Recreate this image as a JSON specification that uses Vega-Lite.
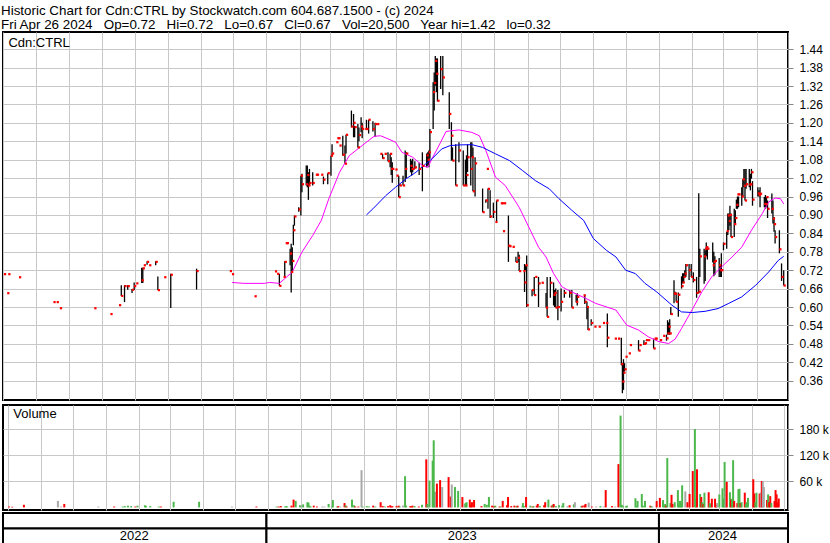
{
"$schema": "https://vega.github.io/schema/vega-lite/v6.json",
"background": "white",
"padding": {"left": 1, "top": 3, "right": 0, "bottom": 0},
"title": {"text": ["Historic Chart for Cdn:CTRL by Stockwatch.com 604.687.1500 - (c) 2024", "Fri Apr 26 2024\u00a0\u00a0 Op=0.72\u00a0\u00a0 Hi=0.72\u00a0\u00a0 Lo=0.67\u00a0\u00a0 Cl=0.67\u00a0\u00a0 Vol=20,500\u00a0\u00a0 Year hi=1.42\u00a0\u00a0 lo=0.32"], "anchor": "start", "frame": "bounds", "fontSize": 13.4, "lineHeight": 14, "font": "Liberation Sans", "fontWeight": "normal", "color": "black", "offset": 0},
"datasets": {
"px": [
{"d":"2022-05-02","h":0.707,"l":0.707,"c":0.707},
{"d":"2022-05-05","h":0.645,"l":0.645,"c":0.645},
{"d":"2022-05-06","h":0.707,"l":0.707,"c":0.707},
{"d":"2022-05-16","h":0.697,"l":0.697,"c":0.697},
{"d":"2022-06-17","h":0.616,"l":0.616,"c":0.616},
{"d":"2022-06-20","h":0.616,"l":0.616,"c":0.616},
{"d":"2022-06-23","h":0.596,"l":0.596,"c":0.596},
{"d":"2022-07-25","h":0.596,"l":0.596,"c":0.596},
{"d":"2022-08-09","h":0.577,"l":0.577,"c":0.577},
{"d":"2022-08-17","h":0.606,"l":0.606,"c":0.606},
{"d":"2022-08-19","h":0.671,"l":0.636,"c":0.636},
{"d":"2022-08-22","h":0.671,"l":0.616,"c":0.668},
{"d":"2022-08-25","h":0.671,"l":0.656,"c":0.668},
{"d":"2022-08-29","h":0.659,"l":0.646,"c":0.656},
{"d":"2022-08-31","h":0.680,"l":0.655,"c":0.668},
{"d":"2022-09-02","h":0.677,"l":0.677,"c":0.677},
{"d":"2022-09-07","h":0.728,"l":0.678,"c":0.687},
{"d":"2022-09-08","h":0.728,"l":0.678,"c":0.726},
{"d":"2022-09-09","h":0.736,"l":0.736,"c":0.736},
{"d":"2022-09-12","h":0.749,"l":0.738,"c":0.747},
{"d":"2022-09-14","h":0.736,"l":0.736,"c":0.736},
{"d":"2022-09-20","h":0.749,"l":0.736,"c":0.747},
{"d":"2022-09-22","h":0.699,"l":0.655,"c":0.655},
{"d":"2022-09-28","h":0.697,"l":0.697,"c":0.697},
{"d":"2022-10-04","h":0.708,"l":0.597,"c":0.705},
{"d":"2022-10-28","h":0.725,"l":0.657,"c":0.717},
{"d":"2022-11-28","h":0.717,"l":0.717,"c":0.717},
{"d":"2022-11-30","h":0.707,"l":0.707,"c":0.707},
{"d":"2022-12-21","h":0.635,"l":0.635,"c":0.635},
{"d":"2023-01-09","h":0.716,"l":0.716,"c":0.716},
{"d":"2023-01-11","h":0.708,"l":0.708,"c":0.708},
{"d":"2023-01-13","h":0.708,"l":0.669,"c":0.669},
{"d":"2023-01-17","h":0.698,"l":0.698,"c":0.698},
{"d":"2023-01-18","h":0.749,"l":0.697,"c":0.747},
{"d":"2023-01-19","h":0.808,"l":0.808,"c":0.808},
{"d":"2023-01-20","h":0.808,"l":0.808,"c":0.808},
{"d":"2023-01-23","h":0.790,"l":0.736,"c":0.774},
{"d":"2023-01-24","h":0.806,"l":0.647,"c":0.714},
{"d":"2023-01-25","h":0.795,"l":0.714,"c":0.750},
{"d":"2023-01-26","h":0.868,"l":0.801,"c":0.850},
{"d":"2023-01-27","h":0.898,"l":0.865,"c":0.895},
{"d":"2023-01-31","h":0.925,"l":0.910,"c":0.918},
{"d":"2023-02-02","h":1.028,"l":0.898,"c":1.028},
{"d":"2023-02-03","h":1.034,"l":0.974,"c":1.000},
{"d":"2023-02-07","h":1.061,"l":0.996,"c":1.000},
{"d":"2023-02-08","h":1.061,"l":0.990,"c":1.030},
{"d":"2023-02-09","h":1.039,"l":0.949,"c":0.996},
{"d":"2023-02-10","h":1.050,"l":0.996,"c":1.004},
{"d":"2023-02-13","h":1.039,"l":0.996,"c":1.004},
{"d":"2023-02-16","h":1.031,"l":1.031,"c":1.031},
{"d":"2023-02-17","h":1.031,"l":1.031,"c":1.031},
{"d":"2023-02-21","h":1.031,"l":1.031,"c":1.031},
{"d":"2023-02-23","h":1.025,"l":1.000,"c":1.015},
{"d":"2023-02-27","h":1.036,"l":1.000,"c":1.036},
{"d":"2023-03-02","h":1.093,"l":1.028,"c":1.093},
{"d":"2023-03-03","h":1.130,"l":1.093,"c":1.100},
{"d":"2023-03-07","h":1.137,"l":1.137,"c":1.137},
{"d":"2023-03-08","h":1.150,"l":1.150,"c":1.150},
{"d":"2023-03-09","h":1.150,"l":1.150,"c":1.150},
{"d":"2023-03-10","h":1.126,"l":1.126,"c":1.126},
{"d":"2023-03-13","h":1.158,"l":1.093,"c":1.096},
{"d":"2023-03-15","h":1.126,"l":1.066,"c":1.067},
{"d":"2023-03-16","h":1.161,"l":1.100,"c":1.161},
{"d":"2023-03-21","h":1.240,"l":1.185,"c":1.188},
{"d":"2023-03-23","h":1.229,"l":1.153,"c":1.200},
{"d":"2023-03-24","h":1.190,"l":1.153,"c":1.186},
{"d":"2023-03-27","h":1.196,"l":1.120,"c":1.120},
{"d":"2023-03-28","h":1.185,"l":1.140,"c":1.160},
{"d":"2023-03-30","h":1.218,"l":1.169,"c":1.188},
{"d":"2023-03-31","h":1.200,"l":1.150,"c":1.180},
{"d":"2023-04-03","h":1.180,"l":1.180,"c":1.180},
{"d":"2023-04-04","h":1.210,"l":1.178,"c":1.180},
{"d":"2023-04-06","h":1.210,"l":1.165,"c":1.210},
{"d":"2023-04-10","h":1.205,"l":1.172,"c":1.180},
{"d":"2023-04-12","h":1.200,"l":1.155,"c":1.196},
{"d":"2023-04-14","h":1.196,"l":1.196,"c":1.196},
{"d":"2023-04-17","h":1.099,"l":1.099,"c":1.099},
{"d":"2023-04-19","h":1.099,"l":1.083,"c":1.085},
{"d":"2023-04-21","h":1.099,"l":1.099,"c":1.099},
{"d":"2023-04-24","h":1.104,"l":1.075,"c":1.075},
{"d":"2023-04-26","h":1.099,"l":1.055,"c":1.099},
{"d":"2023-04-27","h":1.088,"l":1.030,"c":1.050},
{"d":"2023-04-28","h":1.072,"l":1.005,"c":1.050},
{"d":"2023-05-01","h":1.048,"l":1.048,"c":1.048},
{"d":"2023-05-02","h":1.028,"l":1.028,"c":1.028},
{"d":"2023-05-04","h":1.028,"l":0.958,"c":0.958},
{"d":"2023-05-05","h":1.000,"l":0.996,"c":0.996},
{"d":"2023-05-08","h":1.028,"l":0.996,"c":0.996},
{"d":"2023-05-10","h":1.110,"l":1.007,"c":1.050},
{"d":"2023-05-11","h":1.104,"l":1.020,"c":1.100},
{"d":"2023-05-15","h":1.083,"l":1.039,"c":1.060},
{"d":"2023-05-16","h":1.077,"l":1.028,"c":1.050},
{"d":"2023-05-17","h":1.083,"l":1.039,"c":1.050},
{"d":"2023-05-19","h":1.075,"l":1.050,"c":1.055},
{"d":"2023-05-23","h":1.070,"l":1.030,"c":1.050},
{"d":"2023-05-26","h":1.104,"l":0.977,"c":1.060},
{"d":"2023-05-30","h":1.100,"l":1.055,"c":1.094},
{"d":"2023-05-31","h":1.104,"l":1.060,"c":1.080},
{"d":"2023-06-01","h":1.110,"l":1.055,"c":1.104},
{"d":"2023-06-02","h":1.180,"l":1.083,"c":1.170},
{"d":"2023-06-05","h":1.332,"l":1.180,"c":1.300},
{"d":"2023-06-06","h":1.364,"l":1.240,"c":1.330},
{"d":"2023-06-07","h":1.418,"l":1.321,"c":1.402},
{"d":"2023-06-08","h":1.410,"l":1.300,"c":1.360},
{"d":"2023-06-09","h":1.410,"l":1.270,"c":1.272},
{"d":"2023-06-12","h":1.418,"l":1.310,"c":1.375},
{"d":"2023-06-14","h":1.418,"l":1.290,"c":1.348},
{"d":"2023-06-20","h":1.300,"l":1.180,"c":1.229},
{"d":"2023-06-22","h":1.202,"l":1.077,"c":1.158},
{"d":"2023-06-23","h":1.120,"l":1.077,"c":1.077},
{"d":"2023-06-26","h":1.130,"l":0.996,"c":0.996},
{"d":"2023-06-29","h":1.137,"l":1.072,"c":1.110},
{"d":"2023-07-03","h":1.110,"l":0.996,"c":0.996},
{"d":"2023-07-05","h":1.080,"l":0.996,"c":0.996},
{"d":"2023-07-06","h":1.094,"l":0.996,"c":1.030},
{"d":"2023-07-07","h":1.130,"l":1.040,"c":1.088},
{"d":"2023-07-10","h":1.137,"l":0.996,"c":1.050},
{"d":"2023-07-11","h":1.137,"l":1.088,"c":1.088},
{"d":"2023-07-12","h":1.120,"l":0.977,"c":0.977},
{"d":"2023-07-14","h":1.088,"l":0.960,"c":1.068},
{"d":"2023-07-21","h":0.986,"l":0.909,"c":0.909},
{"d":"2023-07-24","h":0.950,"l":0.940,"c":0.947},
{"d":"2023-07-25","h":1.050,"l":1.050,"c":1.050},
{"d":"2023-07-26","h":0.986,"l":0.920,"c":0.985},
{"d":"2023-07-28","h":0.980,"l":0.890,"c":0.895},
{"d":"2023-07-31","h":0.940,"l":0.890,"c":0.910},
{"d":"2023-08-02","h":0.877,"l":0.877,"c":0.877},
{"d":"2023-08-03","h":0.947,"l":0.880,"c":0.947},
{"d":"2023-08-07","h":0.938,"l":0.938,"c":0.938},
{"d":"2023-08-08","h":0.938,"l":0.938,"c":0.938},
{"d":"2023-08-09","h":0.847,"l":0.847,"c":0.847},
{"d":"2023-08-10","h":0.938,"l":0.938,"c":0.938},
{"d":"2023-08-14","h":0.898,"l":0.747,"c":0.800},
{"d":"2023-08-15","h":0.798,"l":0.798,"c":0.798},
{"d":"2023-08-18","h":0.796,"l":0.796,"c":0.796},
{"d":"2023-08-21","h":0.764,"l":0.747,"c":0.747},
{"d":"2023-08-23","h":0.780,"l":0.747,"c":0.760},
{"d":"2023-08-24","h":0.770,"l":0.717,"c":0.717},
{"d":"2023-08-28","h":0.717,"l":0.717,"c":0.717},
{"d":"2023-08-29","h":0.740,"l":0.649,"c":0.680},
{"d":"2023-08-30","h":0.736,"l":0.720,"c":0.736},
{"d":"2023-08-31","h":0.768,"l":0.600,"c":0.606},
{"d":"2023-09-05","h":0.655,"l":0.635,"c":0.655},
{"d":"2023-09-07","h":0.698,"l":0.639,"c":0.639},
{"d":"2023-09-08","h":0.698,"l":0.698,"c":0.698},
{"d":"2023-09-11","h":0.698,"l":0.600,"c":0.677},
{"d":"2023-09-14","h":0.679,"l":0.679,"c":0.679},
{"d":"2023-09-18","h":0.646,"l":0.598,"c":0.598},
{"d":"2023-09-19","h":0.698,"l":0.568,"c":0.568},
{"d":"2023-09-22","h":0.698,"l":0.630,"c":0.679},
{"d":"2023-09-25","h":0.680,"l":0.605,"c":0.640},
{"d":"2023-09-26","h":0.655,"l":0.600,"c":0.646},
{"d":"2023-09-27","h":0.660,"l":0.598,"c":0.598},
{"d":"2023-09-29","h":0.655,"l":0.557,"c":0.600},
{"d":"2023-10-02","h":0.660,"l":0.585,"c":0.617},
{"d":"2023-10-05","h":0.655,"l":0.630,"c":0.646},
{"d":"2023-10-10","h":0.655,"l":0.630,"c":0.646},
{"d":"2023-10-12","h":0.655,"l":0.598,"c":0.598},
{"d":"2023-10-16","h":0.640,"l":0.615,"c":0.617},
{"d":"2023-10-17","h":0.645,"l":0.605,"c":0.633},
{"d":"2023-10-23","h":0.638,"l":0.638,"c":0.638},
{"d":"2023-10-24","h":0.640,"l":0.610,"c":0.617},
{"d":"2023-10-26","h":0.618,"l":0.560,"c":0.600},
{"d":"2023-10-27","h":0.600,"l":0.525,"c":0.527},
{"d":"2023-10-30","h":0.560,"l":0.540,"c":0.548},
{"d":"2023-11-02","h":0.536,"l":0.536,"c":0.536},
{"d":"2023-11-06","h":0.536,"l":0.536,"c":0.536},
{"d":"2023-11-10","h":0.548,"l":0.548,"c":0.548},
{"d":"2023-11-13","h":0.548,"l":0.548,"c":0.548},
{"d":"2023-11-14","h":0.579,"l":0.469,"c":0.500},
{"d":"2023-11-21","h":0.497,"l":0.497,"c":0.497},
{"d":"2023-11-24","h":0.497,"l":0.497,"c":0.497},
{"d":"2023-11-27","h":0.500,"l":0.410,"c":0.414},
{"d":"2023-11-28","h":0.417,"l":0.319,"c":0.357},
{"d":"2023-11-29","h":0.430,"l":0.330,"c":0.386},
{"d":"2023-11-30","h":0.417,"l":0.390,"c":0.397},
{"d":"2023-12-01","h":0.438,"l":0.438,"c":0.438},
{"d":"2023-12-04","h":0.449,"l":0.449,"c":0.449},
{"d":"2023-12-05","h":0.476,"l":0.476,"c":0.476},
{"d":"2023-12-13","h":0.492,"l":0.458,"c":0.458},
{"d":"2023-12-14","h":0.476,"l":0.476,"c":0.476},
{"d":"2023-12-18","h":0.492,"l":0.476,"c":0.480},
{"d":"2023-12-19","h":0.482,"l":0.482,"c":0.482},
{"d":"2023-12-20","h":0.492,"l":0.490,"c":0.492},
{"d":"2023-12-22","h":0.492,"l":0.492,"c":0.492},
{"d":"2023-12-27","h":0.497,"l":0.465,"c":0.465},
{"d":"2023-12-28","h":0.497,"l":0.497,"c":0.497},
{"d":"2023-12-29","h":0.497,"l":0.497,"c":0.497},
{"d":"2024-01-02","h":0.492,"l":0.492,"c":0.492},
{"d":"2024-01-05","h":0.506,"l":0.506,"c":0.506},
{"d":"2024-01-08","h":0.510,"l":0.490,"c":0.498},
{"d":"2024-01-09","h":0.557,"l":0.510,"c":0.514},
{"d":"2024-01-10","h":0.550,"l":0.510,"c":0.536},
{"d":"2024-01-11","h":0.560,"l":0.510,"c":0.514},
{"d":"2024-01-12","h":0.600,"l":0.575,"c":0.577},
{"d":"2024-01-15","h":0.687,"l":0.612,"c":0.644},
{"d":"2024-01-16","h":0.650,"l":0.640,"c":0.643},
{"d":"2024-01-17","h":0.647,"l":0.617,"c":0.617},
{"d":"2024-01-19","h":0.647,"l":0.568,"c":0.640},
{"d":"2024-01-22","h":0.700,"l":0.660,"c":0.668},
{"d":"2024-01-23","h":0.710,"l":0.677,"c":0.680},
{"d":"2024-01-24","h":0.710,"l":0.677,"c":0.698},
{"d":"2024-01-25","h":0.720,"l":0.698,"c":0.709},
{"d":"2024-01-26","h":0.740,"l":0.698,"c":0.736},
{"d":"2024-01-29","h":0.740,"l":0.688,"c":0.720},
{"d":"2024-01-31","h":0.740,"l":0.698,"c":0.698},
{"d":"2024-02-02","h":0.713,"l":0.680,"c":0.688},
{"d":"2024-02-05","h":0.698,"l":0.630,"c":0.646},
{"d":"2024-02-07","h":0.971,"l":0.644,"c":0.650},
{"d":"2024-02-08","h":0.790,"l":0.698,"c":0.765},
{"d":"2024-02-12","h":0.790,"l":0.676,"c":0.765},
{"d":"2024-02-13","h":0.785,"l":0.685,"c":0.790},
{"d":"2024-02-14","h":0.810,"l":0.765,"c":0.795},
{"d":"2024-02-15","h":0.790,"l":0.755,"c":0.790},
{"d":"2024-02-20","h":0.810,"l":0.745,"c":0.736},
{"d":"2024-02-21","h":0.780,"l":0.700,"c":0.747},
{"d":"2024-02-22","h":0.765,"l":0.705,"c":0.750},
{"d":"2024-02-26","h":0.760,"l":0.698,"c":0.736},
{"d":"2024-02-27","h":0.736,"l":0.698,"c":0.720},
{"d":"2024-02-28","h":0.775,"l":0.698,"c":0.720},
{"d":"2024-03-01","h":0.810,"l":0.785,"c":0.806},
{"d":"2024-03-04","h":0.845,"l":0.790,"c":0.847},
{"d":"2024-03-05","h":0.905,"l":0.835,"c":0.898},
{"d":"2024-03-06","h":0.905,"l":0.850,"c":0.880},
{"d":"2024-03-07","h":0.930,"l":0.865,"c":0.900},
{"d":"2024-03-08","h":0.905,"l":0.828,"c":0.828},
{"d":"2024-03-11","h":0.920,"l":0.828,"c":0.870},
{"d":"2024-03-12","h":0.915,"l":0.870,"c":0.890},
{"d":"2024-03-13","h":0.950,"l":0.920,"c":0.933},
{"d":"2024-03-14","h":0.960,"l":0.920,"c":0.967},
{"d":"2024-03-15","h":0.960,"l":0.925,"c":0.967},
{"d":"2024-03-18","h":0.990,"l":0.930,"c":0.960},
{"d":"2024-03-19","h":1.016,"l":0.960,"c":1.016},
{"d":"2024-03-20","h":1.050,"l":0.990,"c":0.995},
{"d":"2024-03-21","h":1.050,"l":0.947,"c":0.947},
{"d":"2024-03-22","h":1.050,"l":0.985,"c":1.000},
{"d":"2024-03-25","h":1.050,"l":0.990,"c":0.999},
{"d":"2024-03-26","h":1.034,"l":0.980,"c":1.000},
{"d":"2024-03-27","h":1.050,"l":1.018,"c":1.039},
{"d":"2024-03-28","h":1.010,"l":0.930,"c":0.950},
{"d":"2024-04-02","h":0.990,"l":0.960,"c":0.970},
{"d":"2024-04-03","h":0.980,"l":0.960,"c":0.965},
{"d":"2024-04-04","h":0.990,"l":0.925,"c":0.969},
{"d":"2024-04-08","h":0.958,"l":0.925,"c":0.936},
{"d":"2024-04-09","h":0.965,"l":0.920,"c":0.935},
{"d":"2024-04-10","h":0.958,"l":0.925,"c":0.958},
{"d":"2024-04-11","h":0.947,"l":0.890,"c":0.920},
{"d":"2024-04-15","h":0.970,"l":0.905,"c":0.920},
{"d":"2024-04-16","h":0.947,"l":0.872,"c":0.888},
{"d":"2024-04-17","h":0.893,"l":0.845,"c":0.870},
{"d":"2024-04-18","h":0.850,"l":0.807,"c":0.828},
{"d":"2024-04-22","h":0.850,"l":0.775,"c":0.788},
{"d":"2024-04-24","h":0.742,"l":0.685,"c":0.698},
{"d":"2024-04-26","h":0.720,"l":0.670,"c":0.670}
],
"ma": [
{"d":"2022-11-30","m":0.680,"s":"fast"},
{"d":"2022-12-11","m":0.677,"s":"fast"},
{"d":"2022-12-30","m":0.677,"s":"fast"},
{"d":"2023-01-04","m":0.680,"s":"fast"},
{"d":"2023-01-13","m":0.677,"s":"fast"},
{"d":"2023-01-25","m":0.714,"s":"fast"},
{"d":"2023-02-03","m":0.779,"s":"fast"},
{"d":"2023-02-13","m":0.833,"s":"fast"},
{"d":"2023-02-21","m":0.882,"s":"fast"},
{"d":"2023-02-28","m":0.953,"s":"fast"},
{"d":"2023-03-10","m":1.039,"s":"fast"},
{"d":"2023-03-19","m":1.093,"s":"fast"},
{"d":"2023-03-31","m":1.126,"s":"fast"},
{"d":"2023-04-11","m":1.156,"s":"fast"},
{"d":"2023-04-17","m":1.158,"s":"fast"},
{"d":"2023-04-24","m":1.148,"s":"fast"},
{"d":"2023-05-01","m":1.137,"s":"fast"},
{"d":"2023-05-07","m":1.104,"s":"fast"},
{"d":"2023-05-17","m":1.088,"s":"fast"},
{"d":"2023-05-26","m":1.061,"s":"fast"},
{"d":"2023-05-31","m":1.055,"s":"fast"},
{"d":"2023-06-04","m":1.083,"s":"fast"},
{"d":"2023-06-12","m":1.137,"s":"fast"},
{"d":"2023-06-17","m":1.172,"s":"fast"},
{"d":"2023-06-29","m":1.177,"s":"fast"},
{"d":"2023-07-11","m":1.169,"s":"fast"},
{"d":"2023-07-18","m":1.158,"s":"fast"},
{"d":"2023-07-24","m":1.110,"s":"fast"},
{"d":"2023-08-02","m":1.023,"s":"fast"},
{"d":"2023-08-11","m":0.996,"s":"fast"},
{"d":"2023-08-24","m":0.925,"s":"fast"},
{"d":"2023-09-02","m":0.860,"s":"fast"},
{"d":"2023-09-11","m":0.795,"s":"fast"},
{"d":"2023-09-18","m":0.763,"s":"fast"},
{"d":"2023-09-25","m":0.709,"s":"fast"},
{"d":"2023-10-03","m":0.665,"s":"fast"},
{"d":"2023-10-12","m":0.649,"s":"fast"},
{"d":"2023-10-25","m":0.628,"s":"fast"},
{"d":"2023-11-03","m":0.612,"s":"fast"},
{"d":"2023-11-22","m":0.590,"s":"fast"},
{"d":"2023-12-02","m":0.541,"s":"fast"},
{"d":"2023-12-13","m":0.525,"s":"fast"},
{"d":"2023-12-22","m":0.503,"s":"fast"},
{"d":"2024-01-01","m":0.487,"s":"fast"},
{"d":"2024-01-10","m":0.481,"s":"fast"},
{"d":"2024-01-16","m":0.495,"s":"fast"},
{"d":"2024-01-22","m":0.530,"s":"fast"},
{"d":"2024-02-01","m":0.592,"s":"fast"},
{"d":"2024-02-10","m":0.650,"s":"fast"},
{"d":"2024-02-19","m":0.698,"s":"fast"},
{"d":"2024-02-28","m":0.730,"s":"fast"},
{"d":"2024-03-09","m":0.763,"s":"fast"},
{"d":"2024-03-18","m":0.795,"s":"fast"},
{"d":"2024-03-27","m":0.850,"s":"fast"},
{"d":"2024-04-06","m":0.904,"s":"fast"},
{"d":"2024-04-12","m":0.942,"s":"fast"},
{"d":"2024-04-18","m":0.955,"s":"fast"},
{"d":"2024-04-23","m":0.953,"s":"fast"},
{"d":"2024-04-26","m":0.936,"s":"fast"},
{"d":"2023-04-04","m":0.900,"s":"slow"},
{"d":"2023-04-10","m":0.920,"s":"slow"},
{"d":"2023-04-22","m":0.963,"s":"slow"},
{"d":"2023-05-01","m":0.990,"s":"slow"},
{"d":"2023-05-11","m":1.018,"s":"slow"},
{"d":"2023-05-20","m":1.039,"s":"slow"},
{"d":"2023-05-29","m":1.066,"s":"slow"},
{"d":"2023-06-04","m":1.083,"s":"slow"},
{"d":"2023-06-13","m":1.115,"s":"slow"},
{"d":"2023-06-21","m":1.126,"s":"slow"},
{"d":"2023-06-29","m":1.128,"s":"slow"},
{"d":"2023-07-11","m":1.129,"s":"slow"},
{"d":"2023-07-21","m":1.120,"s":"slow"},
{"d":"2023-08-02","m":1.099,"s":"slow"},
{"d":"2023-08-15","m":1.077,"s":"slow"},
{"d":"2023-08-27","m":1.045,"s":"slow"},
{"d":"2023-09-08","m":1.012,"s":"slow"},
{"d":"2023-09-21","m":0.985,"s":"slow"},
{"d":"2023-09-30","m":0.953,"s":"slow"},
{"d":"2023-10-12","m":0.915,"s":"slow"},
{"d":"2023-10-23","m":0.882,"s":"slow"},
{"d":"2023-11-01","m":0.823,"s":"slow"},
{"d":"2023-11-13","m":0.785,"s":"slow"},
{"d":"2023-11-22","m":0.763,"s":"slow"},
{"d":"2023-12-01","m":0.720,"s":"slow"},
{"d":"2023-12-10","m":0.709,"s":"slow"},
{"d":"2023-12-19","m":0.677,"s":"slow"},
{"d":"2023-12-30","m":0.649,"s":"slow"},
{"d":"2024-01-13","m":0.606,"s":"slow"},
{"d":"2024-01-22","m":0.584,"s":"slow"},
{"d":"2024-02-01","m":0.582,"s":"slow"},
{"d":"2024-02-13","m":0.586,"s":"slow"},
{"d":"2024-02-25","m":0.595,"s":"slow"},
{"d":"2024-03-06","m":0.612,"s":"slow"},
{"d":"2024-03-18","m":0.633,"s":"slow"},
{"d":"2024-03-31","m":0.671,"s":"slow"},
{"d":"2024-04-12","m":0.714,"s":"slow"},
{"d":"2024-04-21","m":0.752,"s":"slow"},
{"d":"2024-04-26","m":0.765,"s":"slow"}
],
"vol": [
{"d":"2022-05-02","v":2000,"dir":"down"},
{"d":"2022-05-05","v":1500,"dir":"down"},
{"d":"2022-05-16","v":6000,"dir":"down"},
{"d":"2022-06-17","v":15000,"dir":"flat"},
{"d":"2022-06-20","v":2000,"dir":"flat"},
{"d":"2022-06-23","v":8000,"dir":"down"},
{"d":"2022-07-25","v":2000,"dir":"flat"},
{"d":"2022-08-09","v":2000,"dir":"down"},
{"d":"2022-08-17","v":2000,"dir":"up"},
{"d":"2022-08-19","v":3000,"dir":"up"},
{"d":"2022-08-22","v":4000,"dir":"up"},
{"d":"2022-08-25","v":3000,"dir":"up"},
{"d":"2022-08-29","v":2000,"dir":"down"},
{"d":"2022-08-31","v":4000,"dir":"up"},
{"d":"2022-09-07","v":5000,"dir":"up"},
{"d":"2022-09-08","v":3000,"dir":"up"},
{"d":"2022-09-12","v":3000,"dir":"up"},
{"d":"2022-09-20","v":2000,"dir":"up"},
{"d":"2022-09-22","v":2000,"dir":"down"},
{"d":"2022-10-04","v":13000,"dir":"up"},
{"d":"2022-10-28","v":13000,"dir":"up"},
{"d":"2022-11-28","v":2000,"dir":"flat"},
{"d":"2022-12-21","v":2000,"dir":"down"},
{"d":"2023-01-09","v":2000,"dir":"up"},
{"d":"2023-01-11","v":2000,"dir":"down"},
{"d":"2023-01-13","v":3000,"dir":"down"},
{"d":"2023-01-17","v":2000,"dir":"up"},
{"d":"2023-01-18","v":3000,"dir":"up"},
{"d":"2023-01-19","v":2000,"dir":"up"},
{"d":"2023-01-23","v":4000,"dir":"down"},
{"d":"2023-01-25","v":18000,"dir":"down"},
{"d":"2023-01-27","v":15000,"dir":"up"},
{"d":"2023-01-31","v":5000,"dir":"up"},
{"d":"2023-02-02","v":4000,"dir":"flat"},
{"d":"2023-02-03","v":7000,"dir":"up"},
{"d":"2023-02-07","v":12000,"dir":"up"},
{"d":"2023-02-08","v":11000,"dir":"up"},
{"d":"2023-02-09","v":4000,"dir":"up"},
{"d":"2023-02-10","v":2000,"dir":"up"},
{"d":"2023-02-13","v":4000,"dir":"down"},
{"d":"2023-02-16","v":2000,"dir":"down"},
{"d":"2023-02-21","v":2000,"dir":"flat"},
{"d":"2023-02-23","v":2000,"dir":"flat"},
{"d":"2023-02-27","v":8000,"dir":"up"},
{"d":"2023-03-02","v":2000,"dir":"up"},
{"d":"2023-03-03","v":17000,"dir":"up"},
{"d":"2023-03-07","v":2000,"dir":"up"},
{"d":"2023-03-08","v":3000,"dir":"down"},
{"d":"2023-03-10","v":2000,"dir":"flat"},
{"d":"2023-03-14","v":10000,"dir":"down"},
{"d":"2023-03-15","v":5000,"dir":"up"},
{"d":"2023-03-16","v":2000,"dir":"down"},
{"d":"2023-03-21","v":18000,"dir":"up"},
{"d":"2023-03-23","v":5000,"dir":"up"},
{"d":"2023-03-24","v":2000,"dir":"down"},
{"d":"2023-03-27","v":2000,"dir":"down"},
{"d":"2023-03-30","v":86000,"dir":"flat"},
{"d":"2023-03-31","v":2000,"dir":"up"},
{"d":"2023-04-04","v":3000,"dir":"up"},
{"d":"2023-04-06","v":2000,"dir":"up"},
{"d":"2023-04-10","v":4000,"dir":"down"},
{"d":"2023-04-12","v":2000,"dir":"up"},
{"d":"2023-04-17","v":12000,"dir":"down"},
{"d":"2023-04-19","v":3000,"dir":"down"},
{"d":"2023-04-21","v":2000,"dir":"up"},
{"d":"2023-04-24","v":3000,"dir":"down"},
{"d":"2023-04-26","v":5000,"dir":"down"},
{"d":"2023-04-27","v":2000,"dir":"down"},
{"d":"2023-04-28","v":3000,"dir":"down"},
{"d":"2023-05-02","v":3000,"dir":"down"},
{"d":"2023-05-04","v":4000,"dir":"down"},
{"d":"2023-05-05","v":2000,"dir":"up"},
{"d":"2023-05-08","v":4000,"dir":"flat"},
{"d":"2023-05-10","v":72000,"dir":"up"},
{"d":"2023-05-11","v":4000,"dir":"up"},
{"d":"2023-05-15","v":3000,"dir":"down"},
{"d":"2023-05-16","v":2000,"dir":"down"},
{"d":"2023-05-17","v":4000,"dir":"down"},
{"d":"2023-05-19","v":3000,"dir":"up"},
{"d":"2023-05-23","v":2000,"dir":"down"},
{"d":"2023-05-26","v":6000,"dir":"up"},
{"d":"2023-05-30","v":111000,"dir":"down"},
{"d":"2023-05-31","v":8000,"dir":"up"},
{"d":"2023-06-02","v":62000,"dir":"up"},
{"d":"2023-06-05","v":108000,"dir":"up"},
{"d":"2023-06-06","v":155000,"dir":"up"},
{"d":"2023-06-07","v":36000,"dir":"up"},
{"d":"2023-06-08","v":34000,"dir":"flat"},
{"d":"2023-06-09","v":55000,"dir":"down"},
{"d":"2023-06-12","v":63000,"dir":"down"},
{"d":"2023-06-14","v":47000,"dir":"flat"},
{"d":"2023-06-20","v":70000,"dir":"down"},
{"d":"2023-06-22","v":25000,"dir":"down"},
{"d":"2023-06-23","v":53000,"dir":"flat"},
{"d":"2023-06-26","v":47000,"dir":"up"},
{"d":"2023-06-29","v":38000,"dir":"up"},
{"d":"2023-07-03","v":24000,"dir":"down"},
{"d":"2023-07-05","v":8000,"dir":"flat"},
{"d":"2023-07-06","v":10000,"dir":"up"},
{"d":"2023-07-07","v":12000,"dir":"up"},
{"d":"2023-07-10","v":18000,"dir":"down"},
{"d":"2023-07-11","v":6000,"dir":"down"},
{"d":"2023-07-12","v":12000,"dir":"down"},
{"d":"2023-07-14","v":17000,"dir":"down"},
{"d":"2023-07-21","v":3000,"dir":"down"},
{"d":"2023-07-24","v":8000,"dir":"up"},
{"d":"2023-07-26","v":6000,"dir":"up"},
{"d":"2023-07-28","v":24000,"dir":"up"},
{"d":"2023-07-31","v":4000,"dir":"down"},
{"d":"2023-08-02","v":3000,"dir":"down"},
{"d":"2023-08-03","v":4000,"dir":"up"},
{"d":"2023-08-07","v":2000,"dir":"down"},
{"d":"2023-08-08","v":2000,"dir":"up"},
{"d":"2023-08-10","v":15000,"dir":"down"},
{"d":"2023-08-14","v":5000,"dir":"down"},
{"d":"2023-08-15","v":24000,"dir":"down"},
{"d":"2023-08-18","v":3000,"dir":"down"},
{"d":"2023-08-21","v":4000,"dir":"down"},
{"d":"2023-08-23","v":3000,"dir":"up"},
{"d":"2023-08-24","v":4000,"dir":"down"},
{"d":"2023-08-28","v":2000,"dir":"flat"},
{"d":"2023-08-29","v":10000,"dir":"up"},
{"d":"2023-08-30","v":3000,"dir":"up"},
{"d":"2023-09-01","v":24000,"dir":"down"},
{"d":"2023-09-05","v":4000,"dir":"up"},
{"d":"2023-09-07","v":2000,"dir":"down"},
{"d":"2023-09-08","v":3000,"dir":"up"},
{"d":"2023-09-11","v":4000,"dir":"down"},
{"d":"2023-09-12","v":8000,"dir":"down"},
{"d":"2023-09-14","v":3000,"dir":"up"},
{"d":"2023-09-18","v":5000,"dir":"down"},
{"d":"2023-09-19","v":12000,"dir":"down"},
{"d":"2023-09-22","v":18000,"dir":"up"},
{"d":"2023-09-25","v":4000,"dir":"down"},
{"d":"2023-09-26","v":6000,"dir":"up"},
{"d":"2023-09-27","v":8000,"dir":"down"},
{"d":"2023-09-29","v":3000,"dir":"up"},
{"d":"2023-10-02","v":5000,"dir":"up"},
{"d":"2023-10-05","v":4000,"dir":"up"},
{"d":"2023-10-06","v":10000,"dir":"up"},
{"d":"2023-10-10","v":3000,"dir":"flat"},
{"d":"2023-10-12","v":5000,"dir":"down"},
{"d":"2023-10-16","v":7000,"dir":"up"},
{"d":"2023-10-17","v":12000,"dir":"flat"},
{"d":"2023-10-23","v":3000,"dir":"up"},
{"d":"2023-10-24","v":4000,"dir":"down"},
{"d":"2023-10-26","v":5000,"dir":"down"},
{"d":"2023-10-27","v":8000,"dir":"down"},
{"d":"2023-10-30","v":11000,"dir":"flat"},
{"d":"2023-11-02","v":2000,"dir":"down"},
{"d":"2023-11-06","v":2000,"dir":"flat"},
{"d":"2023-11-10","v":3000,"dir":"up"},
{"d":"2023-11-13","v":2000,"dir":"flat"},
{"d":"2023-11-15","v":40000,"dir":"down"},
{"d":"2023-11-21","v":3000,"dir":"down"},
{"d":"2023-11-24","v":2000,"dir":"flat"},
{"d":"2023-11-27","v":100000,"dir":"down"},
{"d":"2023-11-29","v":212000,"dir":"up"},
{"d":"2023-11-30","v":6000,"dir":"up"},
{"d":"2023-12-01","v":4000,"dir":"up"},
{"d":"2023-12-04","v":3000,"dir":"up"},
{"d":"2023-12-05","v":4000,"dir":"up"},
{"d":"2023-12-13","v":21000,"dir":"up"},
{"d":"2023-12-14","v":3000,"dir":"up"},
{"d":"2023-12-15","v":15000,"dir":"up"},
{"d":"2023-12-19","v":31000,"dir":"up"},
{"d":"2023-12-20","v":4000,"dir":"up"},
{"d":"2023-12-22","v":15000,"dir":"up"},
{"d":"2023-12-27","v":4000,"dir":"down"},
{"d":"2023-12-28","v":3000,"dir":"up"},
{"d":"2023-12-29","v":2000,"dir":"flat"},
{"d":"2024-01-02","v":15000,"dir":"down"},
{"d":"2024-01-05","v":22000,"dir":"down"},
{"d":"2024-01-08","v":17000,"dir":"up"},
{"d":"2024-01-09","v":5000,"dir":"up"},
{"d":"2024-01-10","v":8000,"dir":"up"},
{"d":"2024-01-11","v":4000,"dir":"down"},
{"d":"2024-01-12","v":114000,"dir":"up"},
{"d":"2024-01-15","v":10000,"dir":"up"},
{"d":"2024-01-16","v":29000,"dir":"down"},
{"d":"2024-01-17","v":8000,"dir":"down"},
{"d":"2024-01-19","v":12000,"dir":"up"},
{"d":"2024-01-22","v":40000,"dir":"up"},
{"d":"2024-01-23","v":8000,"dir":"up"},
{"d":"2024-01-24","v":15000,"dir":"up"},
{"d":"2024-01-25","v":10000,"dir":"up"},
{"d":"2024-01-26","v":51000,"dir":"up"},
{"d":"2024-01-29","v":37000,"dir":"flat"},
{"d":"2024-01-31","v":12000,"dir":"down"},
{"d":"2024-02-02","v":31000,"dir":"down"},
{"d":"2024-02-05","v":84000,"dir":"down"},
{"d":"2024-02-07","v":181000,"dir":"up"},
{"d":"2024-02-08","v":20000,"dir":"up"},
{"d":"2024-02-09","v":88000,"dir":"down"},
{"d":"2024-02-12","v":31000,"dir":"up"},
{"d":"2024-02-13","v":24000,"dir":"down"},
{"d":"2024-02-14","v":12000,"dir":"up"},
{"d":"2024-02-15","v":8000,"dir":"down"},
{"d":"2024-02-16","v":34000,"dir":"up"},
{"d":"2024-02-20","v":35000,"dir":"down"},
{"d":"2024-02-21","v":10000,"dir":"up"},
{"d":"2024-02-22","v":8000,"dir":"up"},
{"d":"2024-02-23","v":20000,"dir":"down"},
{"d":"2024-02-26","v":20000,"dir":"down"},
{"d":"2024-02-27","v":6000,"dir":"down"},
{"d":"2024-02-28","v":10000,"dir":"flat"},
{"d":"2024-03-01","v":30000,"dir":"up"},
{"d":"2024-03-04","v":44000,"dir":"up"},
{"d":"2024-03-05","v":20000,"dir":"up"},
{"d":"2024-03-06","v":105000,"dir":"up"},
{"d":"2024-03-07","v":40000,"dir":"flat"},
{"d":"2024-03-08","v":59000,"dir":"down"},
{"d":"2024-03-11","v":35000,"dir":"up"},
{"d":"2024-03-12","v":18000,"dir":"down"},
{"d":"2024-03-13","v":20000,"dir":"up"},
{"d":"2024-03-14","v":109000,"dir":"up"},
{"d":"2024-03-15","v":15000,"dir":"down"},
{"d":"2024-03-18","v":10000,"dir":"down"},
{"d":"2024-03-19","v":42000,"dir":"up"},
{"d":"2024-03-20","v":43000,"dir":"up"},
{"d":"2024-03-21","v":10000,"dir":"down"},
{"d":"2024-03-22","v":12000,"dir":"up"},
{"d":"2024-03-25","v":34000,"dir":"down"},
{"d":"2024-03-26","v":8000,"dir":"up"},
{"d":"2024-03-27","v":12000,"dir":"up"},
{"d":"2024-03-28","v":22000,"dir":"up"},
{"d":"2024-04-02","v":65000,"dir":"down"},
{"d":"2024-04-03","v":32000,"dir":"down"},
{"d":"2024-04-04","v":12000,"dir":"up"},
{"d":"2024-04-05","v":34000,"dir":"up"},
{"d":"2024-04-08","v":32000,"dir":"down"},
{"d":"2024-04-09","v":34000,"dir":"flat"},
{"d":"2024-04-10","v":61000,"dir":"down"},
{"d":"2024-04-11","v":60000,"dir":"flat"},
{"d":"2024-04-12","v":47000,"dir":"flat"},
{"d":"2024-04-15","v":17000,"dir":"down"},
{"d":"2024-04-16","v":30000,"dir":"up"},
{"d":"2024-04-17","v":12000,"dir":"down"},
{"d":"2024-04-18","v":26000,"dir":"down"},
{"d":"2024-04-19","v":10000,"dir":"up"},
{"d":"2024-04-22","v":15000,"dir":"down"},
{"d":"2024-04-23","v":40000,"dir":"down"},
{"d":"2024-04-24","v":30000,"dir":"down"},
{"d":"2024-04-25","v":12000,"dir":"down"},
{"d":"2024-04-26","v":20500,"dir":"down"}
],
"yr": [
{"s":"2022-05-01","e":"2023-01-01","mid":"2022-08-31","label":"2022"},
{"s":"2023-01-01","e":"2024-01-01","mid":"2023-07-02","label":"2023"},
{"s":"2024-01-01","e":"2024-04-30","mid":"2024-02-29","label":"2024"}
]
},
"spacing": 0,
"vconcat": [
{
"spacing": 3,
"vconcat": [
{
"width": 785,
"height": 368,
"layer": [
{
"data": {"name": "px"},
"mark": {"type": "rule", "color": "black", "strokeWidth": 1.3},
"encoding": {
"x": {"field": "d", "type": "temporal", "scale": {"type": "utc", "domain": [{"year": 2022, "month": 5, "date": 1, "utc": true}, {"year": 2024, "month": 4, "date": 30, "utc": true}]}, "axis": {"orient": "bottom", "labels": false, "ticks": false, "domain": false, "title": null, "grid": true, "tickCount": {"interval": "month", "step": 1}}},
"y": {"field": "l", "type": "quantitative", "scale": {"domain": [0.297, 1.496], "zero": false, "nice": false}, "axis": {"orient": "right", "title": null, "values": [0.36, 0.42, 0.48, 0.54, 0.6, 0.66, 0.72, 0.78, 0.84, 0.9, 0.96, 1.02, 1.08, 1.14, 1.2, 1.26, 1.32, 1.38, 1.44], "tickCount": 40, "format": ".2f", "grid": true, "labelPadding": 6, "labelOverlap": false}},
"y2": {"field": "h"}
}
},
{
"data": {"name": "ma"},
"transform": [{"filter": "datum.s == 'fast'"}],
"mark": {"type": "line", "strokeWidth": 1, "color": "#ff00ff"},
"encoding": {
"x": {"field": "d", "type": "temporal"},
"y": {"field": "m", "type": "quantitative"}
}
},
{
"data": {"name": "ma"},
"transform": [{"filter": "datum.s == 'slow'"}],
"mark": {"type": "line", "strokeWidth": 1, "color": "#0000ff"},
"encoding": {
"x": {"field": "d", "type": "temporal"},
"y": {"field": "m", "type": "quantitative"}
}
},
{
"data": {"name": "px"},
"mark": {"type": "square", "color": "#ff0000", "size": 5, "opacity": 1, "filled": true, "xOffset": 1},
"encoding": {
"x": {"field": "d", "type": "temporal"},
"y": {"field": "c", "type": "quantitative"}
}
},
{
"data": {"values": [{}]},
"mark": {"type": "text", "text": "Cdn:CTRL", "align": "left", "baseline": "middle", "fontSize": 13, "font": "Liberation Sans", "color": "black"},
"encoding": {
"x": {"datum": {"year": 2022, "month": 5, "date": 6, "utc": true}, "type": "temporal"},
"y": {"datum": 1.4605, "type": "quantitative"}
}
}
]
},
{
"width": 785,
"height": 105,
"layer": [
{
"data": {"name": "vol"},
"mark": {"type": "bar", "width": 2},
"encoding": {
"x": {"field": "d", "type": "temporal", "scale": {"type": "utc", "domain": [{"year": 2022, "month": 5, "date": 1, "utc": true}, {"year": 2024, "month": 4, "date": 30, "utc": true}]}, "axis": {"orient": "bottom", "labels": false, "ticks": false, "domain": false, "title": null, "grid": true, "tickCount": {"interval": "month", "step": 1}}},
"y": {"field": "v", "type": "quantitative", "scale": {"domain": [-6000, 236500], "zero": false, "nice": false}, "axis": {"orient": "right", "title": null, "values": [60000, 120000, 180000], "labelExpr": "format(datum.value/1000, 'd') + ' k'", "grid": true, "labelPadding": 6}},
"y2": {"datum": 0},
"color": {"field": "dir", "type": "nominal", "scale": {"domain": ["up", "down", "flat"], "range": ["#4cb84c", "#ff0000", "#a8a8a8"]}, "legend": null}
}
},
{
"data": {"values": [{}]},
"mark": {"type": "text", "text": "Volume", "align": "left", "baseline": "middle", "fontSize": 13, "font": "Liberation Sans", "color": "black"},
"encoding": {
"x": {"datum": {"year": 2022, "month": 5, "date": 6, "utc": true}, "type": "temporal"},
"y": {"datum": 216000, "type": "quantitative"}
}
}
]
}
]
},
{
"width": 785,
"height": 31,
"data": {"name": "yr"},
"layer": [
{
"mark": {"type": "rect", "fill": "white", "stroke": "black", "strokeWidth": 2},
"encoding": {
"x": {"field": "s", "type": "temporal", "scale": {"type": "utc", "domain": [{"year": 2022, "month": 5, "date": 1, "utc": true}, {"year": 2024, "month": 4, "date": 30, "utc": true}]}, "axis": null},
"x2": {"field": "e"},
"y": {"datum": 1, "type": "quantitative", "scale": {"domain": [0, 2], "nice": false, "zero": false}, "axis": null},
"y2": {"datum": 2}
}
},
{
"mark": {"type": "rect", "fill": "white", "stroke": "black", "strokeWidth": 2},
"encoding": {
"x": {"field": "s", "type": "temporal"},
"x2": {"field": "e"},
"y": {"datum": 0, "type": "quantitative"},
"y2": {"datum": 1}
}
},
{
"mark": {"type": "text", "fontSize": 13, "font": "Liberation Sans", "color": "black", "baseline": "middle", "align": "center"},
"encoding": {
"x": {"field": "mid", "type": "temporal"},
"y": {"datum": 0.5, "type": "quantitative"},
"text": {"field": "label", "type": "nominal"}
}
}
]
}
],
"config": {
"font": "Liberation Sans",
"view": {"stroke": "black", "strokeWidth": 2},
"axis": {"gridColor": "#c8c8c8", "gridWidth": 1, "gridOpacity": 1, "labelFont": "Liberation Sans", "labelFontSize": 12, "labelColor": "black", "labelOverlap": false}
}
}
